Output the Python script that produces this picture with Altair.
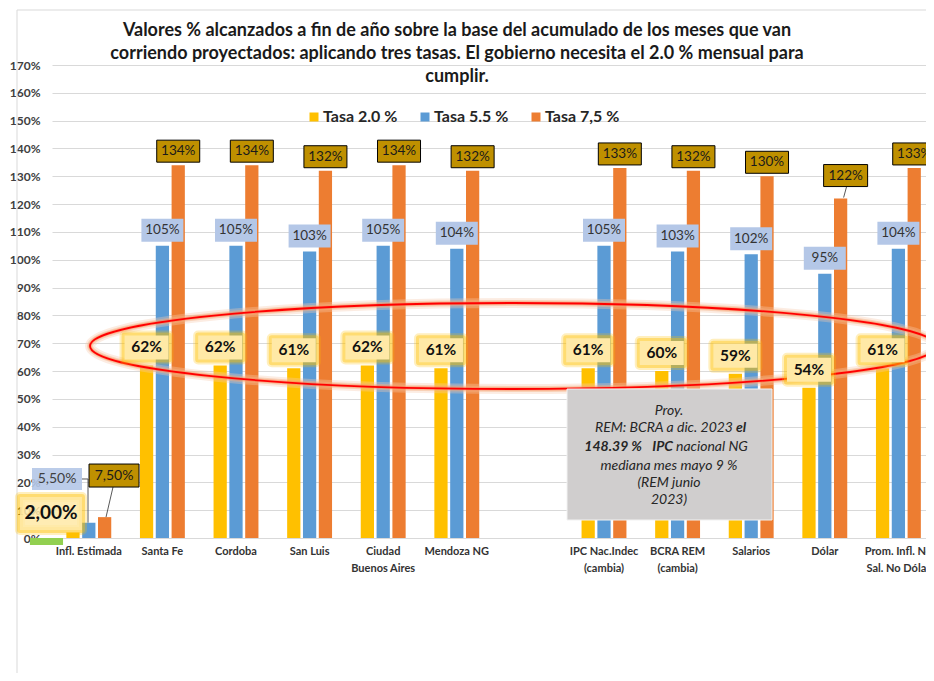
import altair as alt
import pandas as pd

# ---------------- data ----------------
categories = ["Infl. Estimada", "Santa Fe", "Cordoba", "San Luis", "Ciudad\nBuenos Aires",
              "Mendoza NG", "", "IPC Nac.Indec\n(cambia)", "BCRA REM\n(cambia)", "Salarios",
              "Dólar", "Prom. Infl. No\nSal. No Dólar"]
tasa_20 = [2.0, 62, 62, 61, 62, 61, None, 61, 60, 59, 54, 61]
tasa_55 = [5.5, 105, 105, 103, 105, 104, None, 105, 103, 102, 95, 104]
tasa_75 = [7.5, 134, 134, 132, 134, 132, None, 133, 132, 130, 122, 133]
series_names = ["Tasa 2.0 %", "Tasa 5.5 %", "Tasa 7,5 %"]
series_colors = ["#FFC000", "#5B9BD5", "#ED7D31"]
infl_base = [-2.5]          # green bar under "Infl. Estimada"
y_ticks = list(range(0, 171, 10))

title_text = ("Valores % alcanzados a fin de año sobre la base del acumulado de los meses que van\n"
              "corriendo proyectados: aplicando tres tasas.  El gobierno necesita el 2.0 % mensual para\n"
              "cumplir.")

# ---------------- layout constants ----------------
FONT = "Lato"
W, H = 874, 473
SLOT = 73.6
BARW = 0.18
OFF = 0.215
xs = alt.Scale(domain=[-0.5, -0.5 + W / SLOT], nice=False, zero=False)
ys = alt.Scale(domain=[0, 170], nice=False, zero=False)

rows = []
for s, vals in enumerate([tasa_20, tasa_55, tasa_75]):
    for i, v in enumerate(vals):
        if v is None:
            continue
        xc = i + (s - 1) * OFF
        lab = (f"{v:.2f}".replace(".", ",") + "%") if i == 0 else f"{round(v)}%"
        rows.append(dict(cat=categories[i], idx=i, serie=series_names[s], sidx=s, value=v,
                         xc=xc, x1=xc - BARW / 2, x2=xc + BARW / 2, label=lab))
df = pd.DataFrame(rows)

green_df = pd.DataFrame({"value": infl_base, "x1": [-0.575 - 0.225], "x2": [-0.575 + 0.225]})
cat_df = pd.DataFrame({"cat": categories, "idx": list(range(len(categories)))})
cat_df = cat_df[cat_df["cat"] != ""]


def boxpath(x0, y0, x1, y1):
    return f"M{x0},{y0} L{x1},{y0} L{x1},{y1} L{x0},{y1} Z"


base = alt.Chart(df)
YAX = alt.Axis(values=y_ticks, labelExpr="datum.value + '%'", grid=True, labelOverlap=False,
               gridColor="#D9D9D9", domain=False, ticks=False, labelPadding=12,
               labelFont=FONT, labelFontSize=12, labelFontWeight="bold", labelColor="#404040")
Yn = alt.Y("value:Q", scale=ys, title=None, axis=YAX)
XC = alt.X("xc:Q", scale=xs, axis=None, title=None)

layers = []

# chart border (Excel chart frame)
one = pd.DataFrame({"a": [0]})
layers.append(alt.Chart(one).mark_rule(color="#D9D9D9", strokeWidth=1).encode(
    x=alt.value(-35), y=alt.value(-55), y2=alt.value(640)))
layers.append(alt.Chart(one).mark_rule(color="#D9D9D9", strokeWidth=1).encode(
    x=alt.value(-35), x2=alt.value(W + 10), y=alt.value(-55)))

# bars
layers.append(base.mark_bar().encode(
    x=alt.X("x1:Q", scale=xs, axis=None, title=None), x2="x2:Q", y=Yn, y2=alt.datum(0),
    color=alt.Color("serie:N", scale=alt.Scale(domain=series_names, range=series_colors),
                    legend=None)))
layers.append(alt.Chart(green_df).mark_bar(color="#92D050").encode(
    x=alt.X("x1:Q", scale=xs, axis=None, title=None), x2="x2:Q", y=Yn, y2=alt.datum(0)))

# red ellipse with glow
RX, RY = 423, 43
ell = f"M{-RX},0 A{RX},{RY} 0 1,0 {RX},0 A{RX},{RY} 0 1,0 {-RX},0 Z"
for col, sw, op in [("#F8CBAD", 10, 0.35), ("#F4B183", 6, 0.45), ("#FF7F50", 3.5, 0.45), ("#FF0000", 1.8, 1)]:
    layers.append(alt.Chart(one).mark_point(shape=ell, size=4, filled=False, stroke=col,
                                            strokeWidth=sw, opacity=op).encode(
        x=alt.value(461), y=alt.value(281)))

main = base.transform_filter("datum.idx >= 1")
infl = base.transform_filter("datum.idx == 0")

# yellow labels (main)
ypath = boxpath(-22, -30, 22, -6)
yel = main.transform_filter("datum.sidx == 0")
for sw, op in [(10, 0.25), (6, 0.4)]:
    layers.append(yel.mark_point(shape=ypath, size=4, filled=False, stroke="#FFC000",
                                 strokeWidth=sw, strokeJoin="round", opacity=op).encode(x=XC, y=Yn))
layers.append(yel.mark_point(shape=ypath, size=4, filled=True, fill="#FFE9A6", opacity=1,
                             strokeWidth=0).encode(x=XC, y=Yn))
layers.append(yel.mark_text(dy=-18, font=FONT, fontSize=15.5, fontWeight="bold", color="#111111").encode(
    x=XC, y=Yn, text="label:N"))

# blue labels (main)
blu = main.transform_filter("datum.sidx == 1")
layers.append(blu.mark_point(shape=boxpath(-21, -27, 21, -4), size=4, filled=True, fill="#B4C7E7",
                             opacity=1, strokeWidth=0).encode(x=XC, y=Yn))
layers.append(blu.mark_text(dy=-15.5, font=FONT, fontSize=13.5, color="#333333").encode(
    x=XC, y=Yn, text="label:N"))

# orange labels (main)
org = main.transform_filter("datum.sidx == 2 && datum.cat != 'Dólar'")
layers.append(org.mark_point(shape=boxpath(-21.5, -25, 21.5, -3), size=4, filled=True, fill="#BF9000",
                             stroke="#000000", strokeWidth=1, opacity=1).encode(x=XC, y=Yn))
layers.append(org.mark_text(dy=-14, font=FONT, fontSize=13.5, color="#1a1a1a").encode(
    x=XC, y=Yn, text="label:N"))
orgd = main.transform_filter("datum.sidx == 2 && datum.cat == 'Dólar'")
layers.append(orgd.mark_point(shape="M6,-12 L3,-1", size=4, filled=False, stroke="#595959",
                              strokeWidth=1, opacity=1).encode(x=XC, y=Yn))
layers.append(orgd.mark_point(shape=boxpath(-17, -34, 27, -12), size=4, filled=True, fill="#BF9000",
                              stroke="#000000", strokeWidth=1, opacity=1).encode(x=XC, y=Yn))
layers.append(orgd.mark_text(dx=5, dy=-23, font=FONT, fontSize=13.5, color="#1a1a1a").encode(
    x=XC, y=Yn, text="label:N"))

# Infl. Estimada labels
iy = infl.transform_filter("datum.sidx == 0")
ib = infl.transform_filter("datum.sidx == 1")
io = infl.transform_filter("datum.sidx == 2")
layers.append(ib.mark_point(shape="M-6.8,-43.7 L-0.8,-43.7 L-0.8,0", size=4, filled=False,
                            stroke="#595959", strokeWidth=1, opacity=1).encode(x=XC, y=Yn))
layers.append(io.mark_point(shape="M8.4,-30.1 L1.4,0", size=4, filled=False,
                            stroke="#595959", strokeWidth=1, opacity=1).encode(x=XC, y=Yn))
ypath0 = boxpath(-53, -35.4, 9, -2.4)
for sw, op in [(10, 0.25), (6, 0.4)]:
    layers.append(iy.mark_point(shape=ypath0, size=4, filled=False, stroke="#FFC000",
                                strokeWidth=sw, strokeJoin="round", opacity=op).encode(x=XC, y=Yn))
layers.append(iy.mark_point(shape=ypath0, size=4, filled=True, fill="#FFE9A6", opacity=0.85,
                            strokeWidth=0).encode(x=XC, y=Yn))
layers.append(iy.mark_text(dx=-22, dy=-19, font=FONT, fontSize=19, fontWeight="bold", color="#111111").encode(
    x=XC, y=Yn, text="label:N"))
layers.append(ib.mark_point(shape=boxpath(-56.8, -54.7, -6.8, -32.7), size=4, filled=True, fill="#B4C7E7",
                            opacity=0.9, strokeWidth=0).encode(x=XC, y=Yn))
layers.append(ib.mark_text(dx=-31.8, dy=-43.7, font=FONT, fontSize=14, color="#404040").encode(
    x=XC, y=Yn, text="label:N"))
layers.append(io.mark_point(shape=boxpath(-15.6, -53.1, 34.4, -30.1), size=4, filled=True, fill="#BF9000",
                            stroke="#000000", strokeWidth=1, opacity=1).encode(x=XC, y=Yn))
layers.append(io.mark_text(dx=9.4, dy=-41.6, font=FONT, fontSize=14, color="#1a1a1a").encode(
    x=XC, y=Yn, text="label:N"))

# note box
layers.append(alt.Chart(one).mark_rect(fill="#D0CECE", stroke="#F2F2F2", strokeWidth=1).encode(
    x=alt.value(515), x2=alt.value(720), y=alt.value(324), y2=alt.value(455)))


def note(txt, x, y, align="center", bold=False):
    return alt.Chart(pd.DataFrame({"t": [txt]})).mark_text(
        font=FONT, fontSize=14, fontStyle="italic", fontWeight="bold" if bold else "normal",
        align=align, baseline="middle", color="#262626").encode(
        x=alt.value(x), y=alt.value(y), text="t:N")


layers += [
    note("Proy.", 617, 346),
    note("REM: BCRA a dic. 2023", 681, 363, "right"),
    note("el", 684, 363, "left", True),
    note("148.39 %", 590, 382, "right", True),
    note("IPC", 621, 382, "right", True),
    note("nacional NG", 624, 382, "left"),
    note("mediana mes mayo 9 %", 617, 401),
    note("(REM junio", 617, 418),
    note("2023)", 617, 435),
]

# title
layers.append(alt.Chart(pd.DataFrame({"t": [title_text]})).mark_text(
    font=FONT, fontSize=18, fontWeight="bold", align="center", baseline="top",
    lineBreak="\n", lineHeight=23, color="#1a1a1a").encode(
    x=alt.value(405), y=alt.value(-43), text="t:N"))

# legend (manual)
for k, (nm, colr) in enumerate(zip(series_names, series_colors)):
    layers.append(alt.Chart(pd.DataFrame({"t": [nm]})).mark_square(
        size=81, color=colr, opacity=1).encode(x=alt.value(262 + 111 * k), y=alt.value(52)))
    layers.append(alt.Chart(pd.DataFrame({"t": [nm]})).mark_text(
        font=FONT, fontSize=16, fontWeight="bold", align="left", baseline="middle",
        color="#262626").encode(x=alt.value(271 + 111 * k), y=alt.value(52), text="t:N"))

# category labels
layers.append(alt.Chart(cat_df).mark_text(
    font=FONT, fontSize=11, fontWeight="bold", baseline="top", align="center",
    lineBreak="\n", lineHeight=17, color="#333333").encode(
    x=alt.X("idx:Q", scale=xs, axis=None, title=None), y=alt.value(H + 8), text="cat:N"))

chart = alt.layer(*layers).properties(
    width=W, height=H,
    autosize=alt.AutoSizeParams(type="none"),
    padding={"left": 44, "top": 57, "right": 0, "bottom": 135},
    background="white",
).configure_view(stroke=None)

chart.save("out.html", embed_options={"renderer": "svg", "actions": False})
